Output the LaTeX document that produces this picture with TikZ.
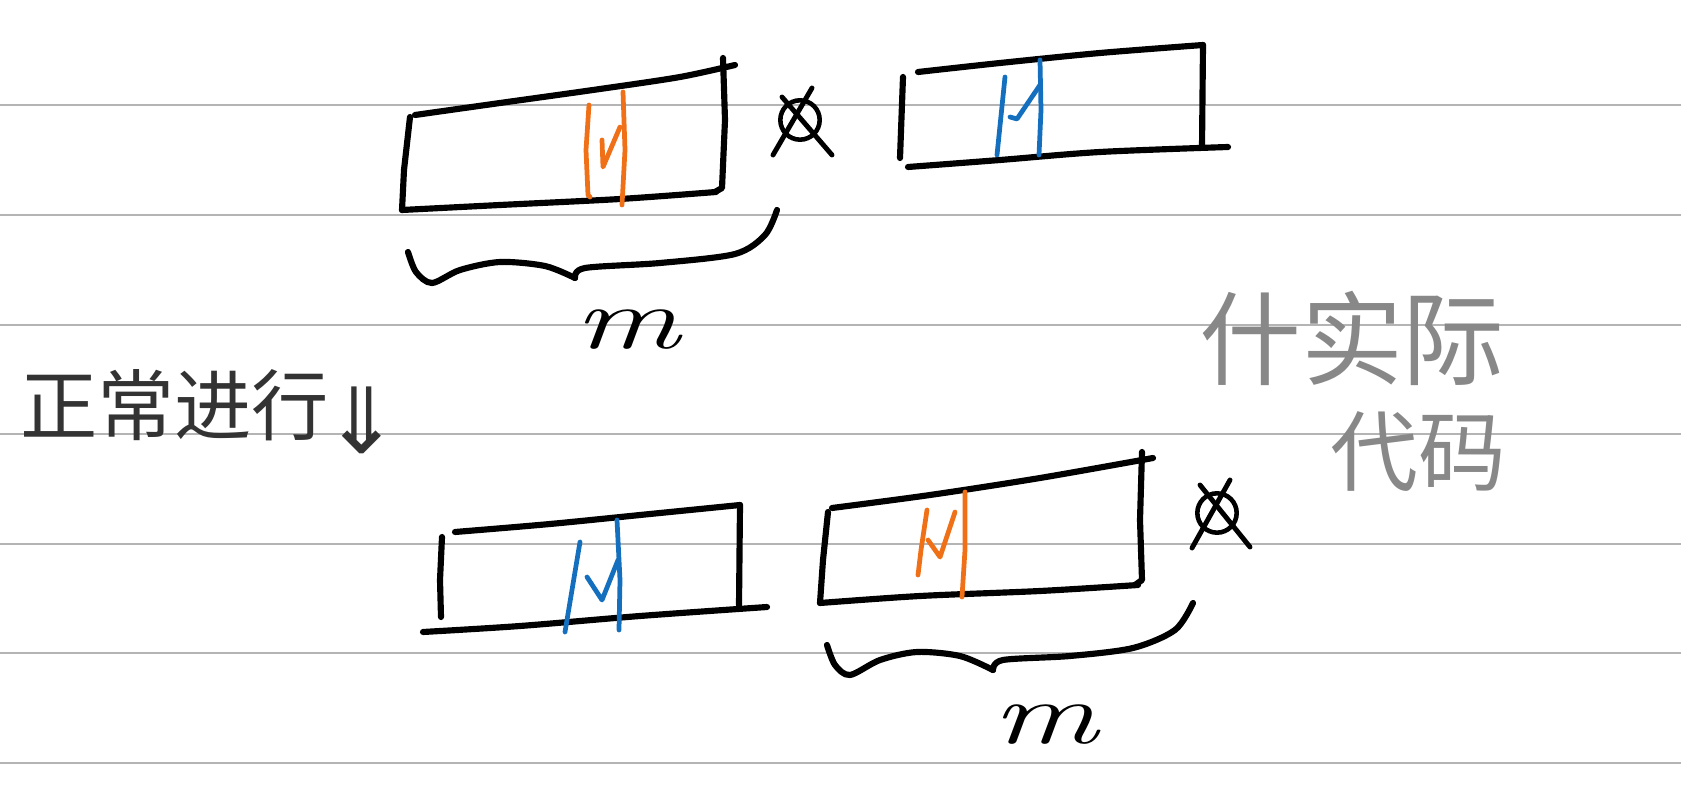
\documentclass[tikz,border=0pt]{standalone}
\usepackage{fontspec}
\newfontfamily\cjk{Noto Sans CJK SC}
\newfontfamily\dejavu{DejaVu Sans}
\definecolor{penorange}{RGB}{240,112,24}
\definecolor{penblue}{RGB}{20,112,190}
\definecolor{pengray}{RGB}{136,136,136}
\definecolor{pendark}{RGB}{51,51,51}
\definecolor{rule}{RGB}{180,180,180}
\begin{document}
\begin{tikzpicture}[x=0.02cm,y=-0.02cm,
  ink/.style={line width=3.5pt,line cap=round,line join=round,black},
  orangeink/.style={line width=2.7pt,line cap=round,line join=round,penorange},
  blueink/.style={line width=2.7pt,line cap=round,line join=round,penblue},
  ruled/.style={line width=0.9pt,rule},
  cross/.style={line width=2.8pt,line cap=round,black},
  lbl/.style={inner sep=0pt,outer sep=0pt}]
\useasboundingbox (0,0) rectangle (1681,790);
\fill[white] (0,0) rectangle (1681,790);
% ruled lines
\foreach \yy in {105,215,325,434,544,653,763}
  \draw[ruled] (0,\yy) -- (1681,\yy);

% ---------- top-left box ----------
\draw[ink] plot[smooth] coordinates {(415,115) (500,103) (600,89) (680,77) (735,65)};
\draw[ink] (723,58) -- (725,120) -- (722,188) -- (715,192);
\draw[ink] plot[smooth] coordinates {(402,210) (500,205) (620,199) (716,192)};
\draw[ink] (410,117) -- (404,170) -- (402,210);
\draw[orangeink] (589,105) -- (586,150) -- (588,195) -- (590,197);
\draw[orangeink] (602,140) -- (603,167) -- (620,127);
\draw[orangeink] (623,92) -- (625,150) -- (622,205);
% cross symbol
\node[lbl,draw,circle,line width=2.6pt,minimum size=32pt*0.7] (x1) at (800,120) {};
\draw[cross] (782,97) -- (832,155);
\draw[cross] (812,88) -- (773,155);
% brace
\draw[ink] plot[smooth] coordinates {(408,252) (416,272) (432,283) (460,270) (500,262) (545,266) (575,278)};
\draw[ink] plot[smooth] coordinates {(575,278) (585,268) (660,263) (735,254) (765,235) (777,210)};
\node[lbl,font=\itshape\fontsize{50}{50}\selectfont,xscale=1.5] (m1) at (627,330) {m};

% ---------- top-right box ----------
\draw[ink] (903,77) -- (900,158);
\draw[ink] plot[smooth] coordinates {(918,72) (1000,63) (1100,53) (1203,45)};
\draw[ink] (1203,45) -- (1202,147);
\draw[ink] plot[smooth] coordinates {(908,167) (1000,160) (1100,152) (1228,147)};
\draw[blueink] (1005,77) -- (997,155);
\draw[blueink] (1010,117) -- (1017,119) -- (1040,85);
\draw[blueink] (1040,60) -- (1041,110) -- (1039,155);

% ---------- left text ----------
\node[lbl,anchor=west,text=pendark,font=\cjk\fontsize{44}{44}\selectfont] (t1) at (20,405) {正常进行};
\node[lbl,text=pendark,font=\dejavu\fontsize{52}{52}\selectfont] (t2) at (362,420) {⇓};

% ---------- right gray text ----------
\node[lbl,text=pengray,font=\cjk\fontsize{58}{58}\selectfont] (t3) at (1352,338) {什实际};
\node[lbl,text=pengray,font=\cjk\fontsize{50}{50}\selectfont] (t4) at (1418,452) {代码};

% ---------- bottom-left box ----------
\draw[ink] (442,537) -- (440,580) -- (441,617);
\draw[ink] plot[smooth] coordinates {(455,532) (550,524) (650,514) (740,505)};
\draw[ink] (740,505) -- (739,605);
\draw[ink] plot[smooth] coordinates {(423,632) (520,626) (640,616) (767,607)};
\draw[blueink] (580,542) -- (572,590) -- (565,632);
\draw[blueink] (587,577) -- (602,600) -- (618,560);
\draw[blueink] (617,520) -- (620,580) -- (619,630);

% ---------- bottom-right box ----------
\draw[ink] (828,512) -- (823,560) -- (820,603);
\draw[ink] plot[smooth] coordinates {(832,508) (930,495) (1040,478) (1153,458)};
\draw[ink] (1142,452) -- (1140,520) -- (1142,580) -- (1135,585);
\draw[ink] plot[smooth] coordinates {(820,603) (920,596) (1040,591) (1138,585)};
\draw[orangeink] (927,510) -- (921,550) -- (918,575);
\draw[orangeink] (928,540) -- (940,557) -- (955,512);
\draw[orangeink] (965,492) -- (965,550) -- (962,597);
% cross symbol
\node[lbl,draw,circle,line width=2.6pt,minimum size=32pt*0.7] (x2) at (1217,513) {};
\draw[cross] (1200,485) -- (1250,547);
\draw[cross] (1230,480) -- (1192,548);
% brace
\draw[ink] plot[smooth] coordinates {(827,645) (835,665) (850,675) (880,660) (917,652) (960,656) (993,670)};
\draw[ink] plot[smooth] coordinates {(993,670) (1003,660) (1070,656) (1133,648) (1175,630) (1193,603)};
\node[lbl,font=\itshape\fontsize{50}{50}\selectfont,xscale=1.5] (m2) at (1045,725) {m};
\end{tikzpicture}
\end{document}
